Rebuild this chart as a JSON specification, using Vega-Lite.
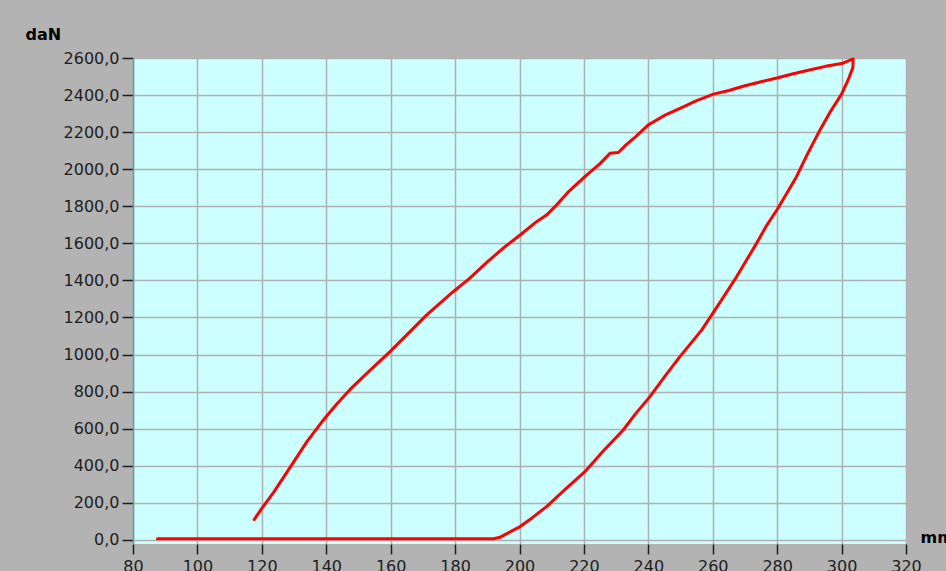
{
  "$schema": "https://vega.github.io/schema/vega-lite/v6.json",
  "width": 773,
  "height": 486,
  "autosize": {"type": "none"},
  "padding": {"left": 133, "top": 58, "right": 40, "bottom": 27},
  "background": "#b3b3b3",
  "view": {"fill": "#ccffff", "stroke": null},
  "data": {
    "values": [
      {"i": 1, "mm": 117.6, "daN": 110},
      {"i": 2, "mm": 120, "daN": 170},
      {"i": 3, "mm": 123.6, "daN": 255},
      {"i": 4, "mm": 129.8, "daN": 418},
      {"i": 5, "mm": 134, "daN": 530},
      {"i": 6, "mm": 138.6, "daN": 636},
      {"i": 7, "mm": 143, "daN": 728},
      {"i": 8, "mm": 147.4, "daN": 812},
      {"i": 9, "mm": 153, "daN": 905},
      {"i": 10, "mm": 159.8, "daN": 1016},
      {"i": 11, "mm": 165, "daN": 1106},
      {"i": 12, "mm": 171.2, "daN": 1214},
      {"i": 13, "mm": 179.4, "daN": 1339},
      {"i": 14, "mm": 184.6, "daN": 1412},
      {"i": 15, "mm": 190, "daN": 1500},
      {"i": 16, "mm": 195.5, "daN": 1582},
      {"i": 17, "mm": 200.2, "daN": 1645},
      {"i": 18, "mm": 205.3, "daN": 1717},
      {"i": 19, "mm": 208.4, "daN": 1753},
      {"i": 20, "mm": 211, "daN": 1798},
      {"i": 21, "mm": 215, "daN": 1875},
      {"i": 22, "mm": 220.3, "daN": 1960},
      {"i": 23, "mm": 225, "daN": 2030},
      {"i": 24, "mm": 228.1, "daN": 2086},
      {"i": 25, "mm": 230.7, "daN": 2090},
      {"i": 26, "mm": 233, "daN": 2130},
      {"i": 27, "mm": 236, "daN": 2175},
      {"i": 28, "mm": 240, "daN": 2239},
      {"i": 29, "mm": 245, "daN": 2290},
      {"i": 30, "mm": 250, "daN": 2330},
      {"i": 31, "mm": 255, "daN": 2370},
      {"i": 32, "mm": 260.2, "daN": 2405},
      {"i": 33, "mm": 265, "daN": 2425},
      {"i": 34, "mm": 270, "daN": 2450},
      {"i": 35, "mm": 275, "daN": 2472},
      {"i": 36, "mm": 279.9, "daN": 2492},
      {"i": 37, "mm": 285, "daN": 2515},
      {"i": 38, "mm": 290, "daN": 2535},
      {"i": 39, "mm": 295, "daN": 2555},
      {"i": 40, "mm": 300, "daN": 2570},
      {"i": 41, "mm": 303.6, "daN": 2595},
      {"i": 42, "mm": 303.5, "daN": 2548},
      {"i": 43, "mm": 302, "daN": 2480},
      {"i": 44, "mm": 300, "daN": 2405},
      {"i": 45, "mm": 296.5, "daN": 2310},
      {"i": 46, "mm": 293.3, "daN": 2212},
      {"i": 47, "mm": 289.5, "daN": 2085},
      {"i": 48, "mm": 286, "daN": 1960},
      {"i": 49, "mm": 283, "daN": 1870},
      {"i": 50, "mm": 279.9, "daN": 1780},
      {"i": 51, "mm": 276.5, "daN": 1690},
      {"i": 52, "mm": 273.6, "daN": 1600},
      {"i": 53, "mm": 270.5, "daN": 1510},
      {"i": 54, "mm": 267.4, "daN": 1420},
      {"i": 55, "mm": 262, "daN": 1275},
      {"i": 56, "mm": 256.6, "daN": 1133},
      {"i": 57, "mm": 249.8, "daN": 989},
      {"i": 58, "mm": 245, "daN": 880},
      {"i": 59, "mm": 240.5, "daN": 773},
      {"i": 60, "mm": 236, "daN": 680},
      {"i": 61, "mm": 232.2, "daN": 593},
      {"i": 62, "mm": 226, "daN": 480},
      {"i": 63, "mm": 220.3, "daN": 368},
      {"i": 64, "mm": 214, "daN": 270},
      {"i": 65, "mm": 208.4, "daN": 180},
      {"i": 66, "mm": 204, "daN": 120},
      {"i": 67, "mm": 200.2, "daN": 72},
      {"i": 68, "mm": 196.5, "daN": 38},
      {"i": 69, "mm": 193.9, "daN": 14},
      {"i": 70, "mm": 192, "daN": 6},
      {"i": 71, "mm": 87.6, "daN": 6}
    ]
  },
  "mark": {"type": "line", "color": "#ff0000", "strokeWidth": 3, "strokeJoin": "round", "strokeCap": "round"},
  "encoding": {
    "x": {
      "field": "mm",
      "type": "quantitative",
      "scale": {"domain": [80, 320], "nice": false, "zero": false},
      "axis": {
        "values": [80, 100, 120, 140, 160, 180, 200, 220, 240, 260, 280, 300, 320],
        "title": "mm",
        "titleX": 787,
        "titleY": -2,
        "titleAlign": "left",
        "titleBaseline": "alphabetic",
        "domain": false,
        "tickSize": 10,
        "labelPadding": 4
      }
    },
    "y": {
      "field": "daN",
      "type": "quantitative",
      "scale": {"domain": [-22, 2600], "nice": false, "zero": false},
      "axis": {
        "values": [0, 200, 400, 600, 800, 1000, 1200, 1400, 1600, 1800, 2000, 2200, 2400, 2600],
        "labelExpr": "replace(format(datum.value, '.1f'), '.', ',')",
        "title": "daN",
        "titleAngle": 0,
        "titleX": -108,
        "titleY": -19,
        "titleAlign": "left",
        "titleBaseline": "alphabetic",
        "domain": true,
        "domainColor": "#6a9e9e",
        "domainWidth": 1.5,
        "tickSize": 11,
        "labelPadding": 3
      }
    },
    "order": {"field": "i", "type": "quantitative"}
  },
  "config": {
    "axis": {
      "labelFont": "DejaVu Sans",
      "labelFontSize": 16,
      "labelColor": "#1e1e1e",
      "titleFont": "DejaVu Sans",
      "titleFontSize": 16,
      "titleFontWeight": "bold",
      "titleColor": "#000000",
      "grid": true,
      "gridColor": "#b0b0b0",
      "gridWidth": 1.5,
      "gridOpacity": 1,
      "tickColor": "#1e1e1e",
      "tickWidth": 1.5,
      "labelFlush": false,
      "labelOverlap": false
    }
  }
}
